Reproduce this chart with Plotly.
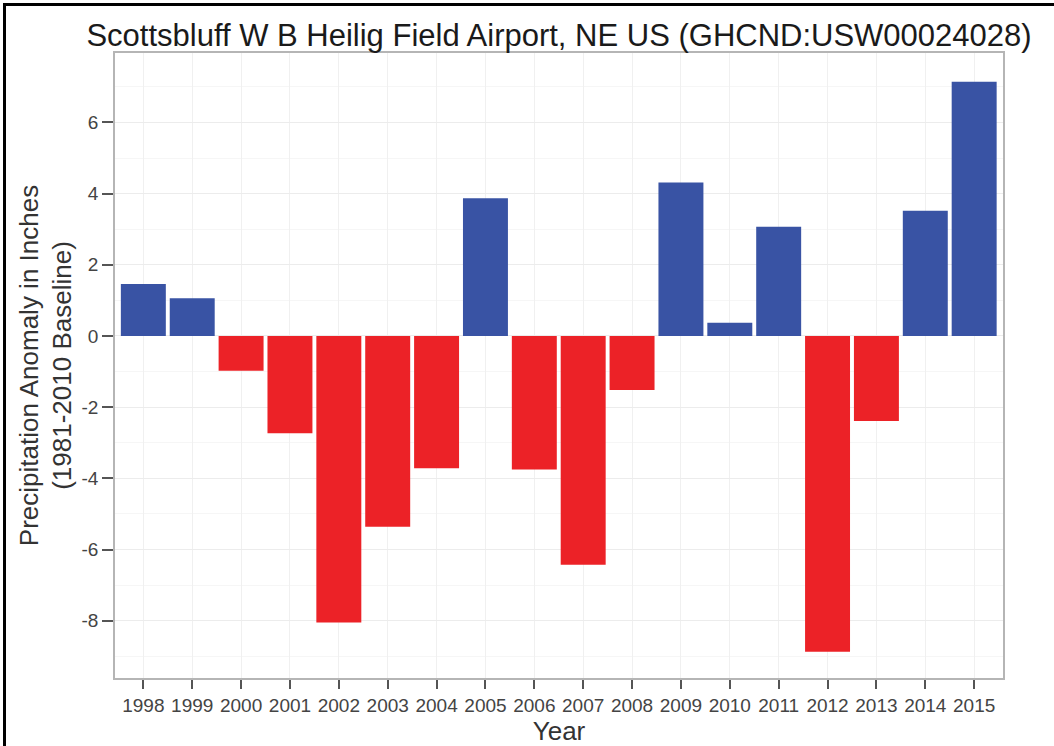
import plotly.graph_objects as go

# Annual precipitation anomaly (inches) vs. 1981-2010 baseline
years = ["1998", "1999", "2000", "2001", "2002", "2003", "2004", "2005", "2006",
         "2007", "2008", "2009", "2010", "2011", "2012", "2013", "2014", "2015"]
anomaly = [1.46, 1.06, -0.98, -2.73, -8.05, -5.36, -3.72, 3.87, -3.75,
           -6.43, -1.52, 4.31, 0.37, 3.07, -8.87, -2.39, 3.52, 7.14]
y_ticks = [-8, -6, -4, -2, 0, 2, 4, 6]

WET = "#3953a4"
DRY = "#ec2227"
colors = [WET if v >= 0 else DRY for v in anomaly]

fig = go.Figure(
    go.Bar(
        x=years,
        y=anomaly,
        marker=dict(color=colors, line=dict(width=0)),
        width=0.92,
        showlegend=False,
    )
)

W, H = 1054, 746
L, R, T, B = 115, 51, 53, 68
pw, ph = W - L - R, H - T - B


def px_x(p):
    return (p - L) / pw


def px_y(p):
    return (H - B - p) / ph


fig.update_layout(
    width=W,
    height=H,
    margin=dict(l=L, r=R, t=T, b=B),
    paper_bgcolor="white",
    plot_bgcolor="white",
    font=dict(family="Liberation Sans, Arial, sans-serif", color="#333333"),
    title=dict(
        text="Scottsbluff W B Heilig Field Airport, NE US (GHCND:USW00024028)",
        x=0.5,
        xref="paper",
        xanchor="center",
        y=1 - 35 / H,
        yanchor="middle",
        font=dict(size=31, color="#1a1a1a"),
    ),
    xaxis=dict(
        type="category",
        automargin=False,
        range=[-0.58, len(years) - 1 + 0.59],
        title=dict(text="Year", font=dict(size=26, color="#333333"), standoff=2),
        tickfont=dict(size=19, color="#444444"),
        ticks="outside",
        ticklen=9,
        tickwidth=1.5,
        tickcolor="#555555",
        showgrid=True,
        gridcolor="#f0f0f0",
        gridwidth=1,
        showline=True,
        linecolor="#b5b5b5",
        linewidth=1.5,
        mirror=True,
        zeroline=False,
    ),
    yaxis=dict(
        automargin=False,
        range=[-9.61, 7.95],
        tickvals=y_ticks,
        ticktext=[str(v) for v in y_ticks],
        title=dict(
            text="Precipitation Anomaly in Inches<br>(1981-2010 Baseline)",
            font=dict(size=26, color="#333333"),
            standoff=2,
        ),
        tickfont=dict(size=19, color="#444444"),
        ticks="outside",
        ticklen=11,
        tickwidth=1.5,
        tickcolor="#555555",
        showgrid=True,
        gridcolor="#ececec",
        gridwidth=1,
        minor=dict(dtick=1, tick0=1, showgrid=True, gridcolor="#f6f6f6", gridwidth=1),
        showline=True,
        linecolor="#b5b5b5",
        linewidth=1.5,
        mirror=True,
        zeroline=False,
    ),
    bargap=0.08,
)

# Black frame along the top and left edges of the figure
fig.add_shape(type="line", xref="paper", yref="paper",
              x0=px_x(3), x1=px_x(W), y0=px_y(4.5), y1=px_y(4.5),
              line=dict(color="black", width=3))
fig.add_shape(type="line", xref="paper", yref="paper",
              x0=px_x(4.5), x1=px_x(4.5), y0=px_y(3), y1=px_y(H),
              line=dict(color="black", width=3))

fig.write_html("out.html")
